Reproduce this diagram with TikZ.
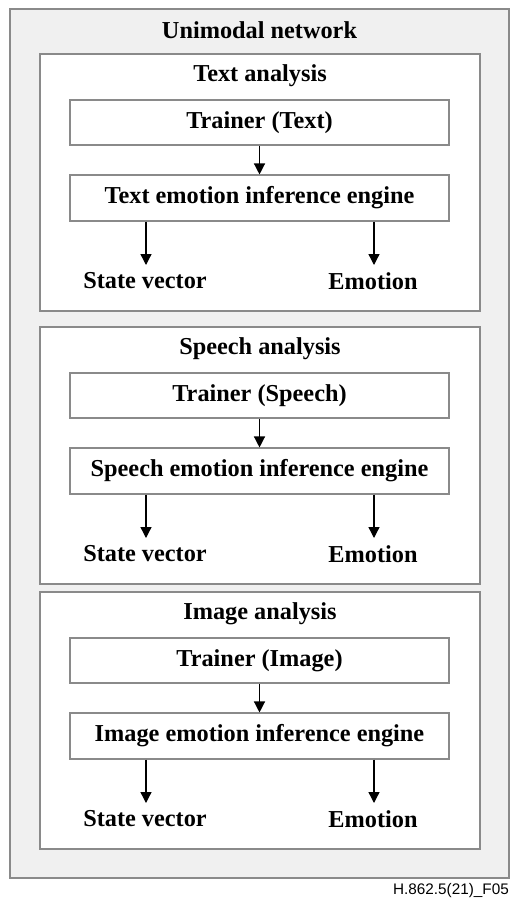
\documentclass[tikz,border=0pt]{standalone}
\usepackage{fontspec}
\setmainfont{Liberation Serif}
\newfontfamily\capfont{Liberation Sans}
\usetikzlibrary{arrows.meta}
\definecolor{outerfill}{HTML}{F0F0F0}
\definecolor{boxline}{HTML}{8A8A8A}
\begin{document}
\begin{tikzpicture}[x=1pt,y=-1pt,
  lbl/.style={font=\fontsize{24.3}{29}\selectfont\bfseries, inner sep=0pt},
  secbox/.style={draw=boxline, fill=white, line width=1.2pt, minimum width=440pt, minimum height=257pt, inner sep=0pt},
  procbox/.style={draw=boxline, fill=white, line width=1.1pt, minimum width=379pt, minimum height=45pt, inner sep=0pt, font=\fontsize{24.3}{29}\selectfont\bfseries},
  arr/.style={-{Triangle[width=11pt,length=11pt]}, line width=1.3pt, black}
]
\useasboundingbox (0,0) rectangle (511,903);
\node[draw=boxline, fill=outerfill, line width=1.3pt, minimum width=499pt, minimum height=869pt, inner sep=0pt] (outer) at (259.5,443.5) {};
\node[lbl] (title) at (259.5,30) {Unimodal network};
\foreach \T/\n/\w in {54/t/Text, 327/s/Speech, 592/i/Image}{
  \node[secbox] (sec\n) at (260,\T+128.5) {};
  \node[lbl] (head\n) at (260,\T+22) {\w{} analysis};
  \node[procbox] (tr\n) at (259.5,\T+68.5) {Trainer (\w)};
  \node[procbox, minimum height=46pt] (eng\n) at (259.5,\T+144) {\w{} emotion inference engine};
  \node[lbl] (sv\n) at (145,\T+227) {State vector};
  \node[lbl] (em\n) at (373,\T+227) {Emotion};
  \coordinate (svtip\n) at (146,\T+211);
  \coordinate (emtip\n) at (374,\T+211);
  \draw[arr] (tr\n) -- (eng\n);
  \draw[arr] (eng\n.south -| svtip\n) -- (svtip\n);
  \draw[arr] (eng\n.south -| emtip\n) -- (emtip\n);
}
\node[anchor=base east, inner sep=0pt, font=\capfont\fontsize{15.3}{18}\selectfont] (cap) at (509,894) {H.862.5(21)\_F05};
\end{tikzpicture}
\end{document}
